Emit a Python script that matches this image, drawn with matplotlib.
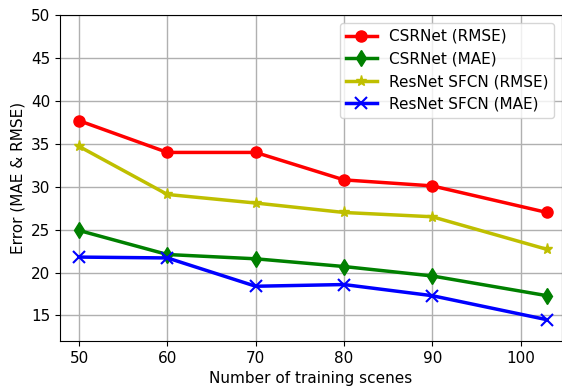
import matplotlib
matplotlib.use("Agg")
import matplotlib.pyplot as plt

scenes = [50, 60, 70, 80, 90, 103]
csr_rmse = [37.7, 34.0, 34.0, 30.8, 30.1, 27.0]
csr_mae = [24.9, 22.1, 21.6, 20.7, 19.6, 17.3]
res_rmse = [34.7, 29.1, 28.1, 27.0, 26.5, 22.7]
res_mae = [21.8, 21.7, 18.4, 18.6, 17.3, 14.5]

plt.rcParams['font.size'] = 11
fig = plt.figure(figsize=(5.62, 3.89), dpi=100)
ax = fig.add_axes([0.107, 0.123, 0.893, 0.838])
ax.plot(scenes, csr_rmse, 'r-o', lw=2.5, ms=8, label='CSRNet (RMSE)')
ax.plot(scenes, csr_mae, 'g-d', lw=2.5, ms=8, label='CSRNet (MAE)')
ax.plot(scenes, res_rmse, 'y-*', lw=2.5, ms=8, label='ResNet SFCN (RMSE)')
ax.plot(scenes, res_mae, 'b-x', lw=2.5, ms=8, mew=1.5, label='ResNet SFCN (MAE)')
ax.set_xlim(47.85, 104.7)
ax.set_ylim(12, 50)
ax.set_xticks([50, 60, 70, 80, 90, 100])
ax.set_yticks([15, 20, 25, 30, 35, 40, 45, 50])
ax.grid(True, color='#b0b0b0', lw=1)
ax.set_xlabel('Number of training scenes')
ax.set_ylabel('Error (MAE & RMSE)')
ax.legend(loc='upper right')
fig.savefig('out.png', dpi=100)
